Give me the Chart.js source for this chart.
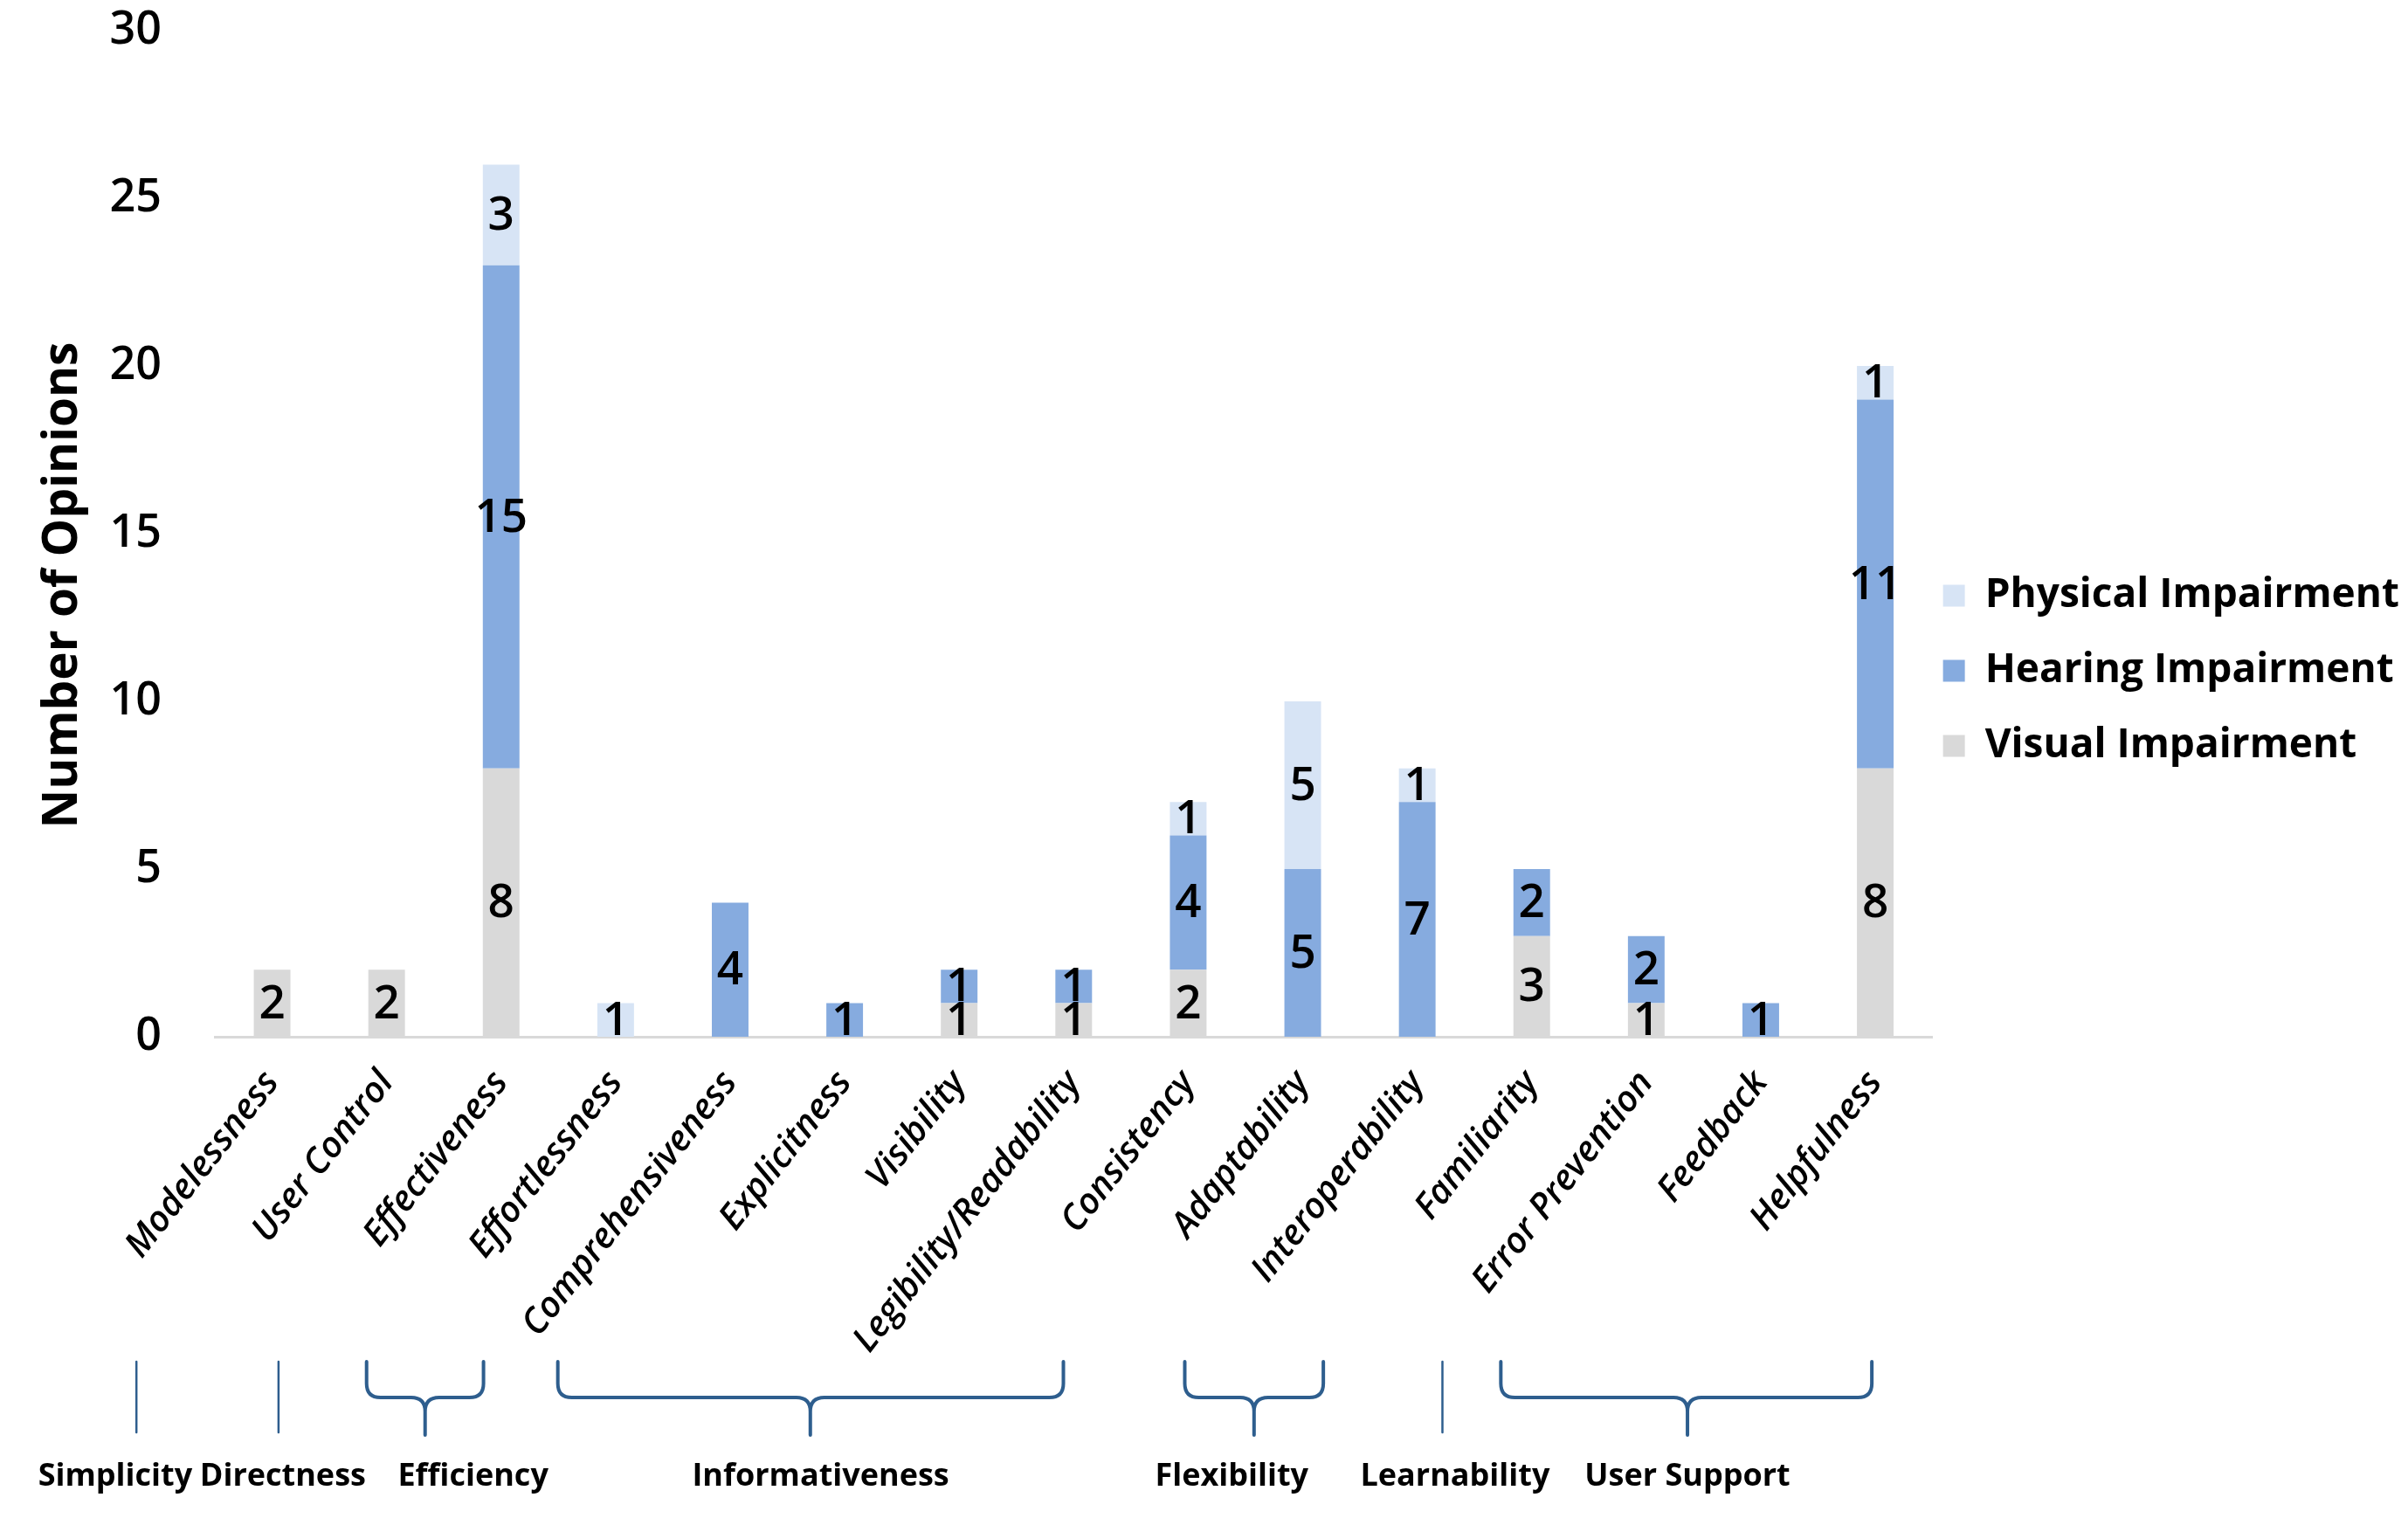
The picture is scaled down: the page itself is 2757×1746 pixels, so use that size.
<!DOCTYPE html>
<html>
<head>
<meta charset="utf-8">
<script src="https://cdn.jsdelivr.net/npm/chart.js@4.4.0/dist/chart.umd.min.js"></script>
<style>
  html, body { margin: 0; padding: 0; background: #fff; }
  #wrap { width: 2757px; height: 1746px; position: relative; }
</style>
</head>
<body>
<div id="wrap"><canvas id="opinions"></canvas></div>
<script>
// chart values
const categories = ['Modelessness', 'User Control', 'Effectiveness', 'Effortlessness', 'Comprehensiveness',
  'Explicitness', 'Visibility', 'Legibility/Readability', 'Consistency', 'Adaptability',
  'Interoperability', 'Familiarity', 'Error Prevention', 'Feedback', 'Helpfulness'];
const visual   = [2, 2, 8, 0, 0, 0, 1, 1, 2, 0, 0, 3, 1, 0, 8];
const hearing  = [0, 0, 15, 0, 4, 1, 1, 1, 4, 5, 7, 2, 2, 1, 11];
const physical = [0, 0, 3, 1, 0, 0, 0, 0, 1, 5, 1, 0, 0, 0, 1];
const seriesNames = ['Visual Impairment', 'Hearing Impairment', 'Physical Impairment'];
const yTicks = [0, 5, 10, 15, 20, 25, 30];
const groupNames = ['Simplicity', 'Directness', 'Efficiency', 'Informativeness', 'Flexibility', 'Learnability', 'User Support'];

// where the group brackets sit under the axis (in category index units)
const groupMarks = [
  { line: -1.185, label: -1.37 },
  { line: 0.056, label: 0.094 },
  { from: 0.825, to: 1.846, tip: 1.336, label: 1.755 },
  { from: 2.495, to: 6.91, tip: 4.70, label: 4.79 },
  { from: 7.97, to: 9.18, tip: 8.575, label: 8.38 },
  { line: 10.22, label: 10.33 },
  { from: 10.73, to: 13.97, tip: 12.36, label: 12.36 }
];

const FONT = '"Open Sans", "Noto Sans", sans-serif';
const BRACE = '#2E5E8E';

const annotate = {
  id: 'annotate',
  afterDatasetsDraw(chart) {
    const ctx = chart.ctx;
    ctx.save();
    ctx.font = '600 53px ' + FONT;
    ctx.fillStyle = '#000';
    ctx.textAlign = 'center';
    ctx.textBaseline = 'middle';
    chart.data.datasets.forEach((ds, i) => {
      chart.getDatasetMeta(i).data.forEach((bar, j) => {
        const v = ds.data[j];
        if (!v) return;
        const p = bar.getProps(['x', 'y', 'base'], true);
        ctx.fillText(String(v), p.x, (p.y + p.base) / 2 + 2);
      });
    });
    ctx.restore();
  },
  afterDraw(chart) {
    const ctx = chart.ctx;
    const xs = chart.scales.x;
    const px = v => xs.getPixelForValue(v);
    const top = 1559, bar = 1600, tipY = 1643, r = 16;
    ctx.save();
    ctx.strokeStyle = BRACE;
    ctx.lineCap = 'round';
    groupMarks.forEach(g => {
      ctx.beginPath();
      if (g.line !== undefined) {
        ctx.lineWidth = 2.5;
        ctx.moveTo(px(g.line), top);
        ctx.lineTo(px(g.line), tipY - 3);
      } else {
        const x1 = px(g.from), x2 = px(g.to), xt = px(g.tip);
        ctx.lineWidth = 4;
        ctx.moveTo(x1, top);
        ctx.lineTo(x1, bar - r);
        ctx.quadraticCurveTo(x1, bar, x1 + r, bar);
        ctx.lineTo(xt - r, bar);
        ctx.quadraticCurveTo(xt, bar, xt, bar + r);
        ctx.lineTo(xt, tipY);
        ctx.moveTo(xt, bar + r);
        ctx.quadraticCurveTo(xt, bar, xt + r, bar);
        ctx.lineTo(x2 - r, bar);
        ctx.quadraticCurveTo(x2, bar, x2, bar - r);
        ctx.lineTo(x2, top);
      }
      ctx.stroke();
    });
    ctx.fillStyle = '#000';
    ctx.font = 'bold 36px ' + FONT;
    ctx.textAlign = 'center';
    ctx.textBaseline = 'middle';
    groupMarks.forEach((g, i) => ctx.fillText(groupNames[i], px(g.label), 1691));

    // y axis title
    ctx.font = 'bold 55px ' + FONT;
    ctx.translate(72, 670);
    ctx.rotate(-Math.PI / 2);
    ctx.fillText('Number of Opinions', 0, 0);
    ctx.restore();
  }
};

const colors = ['#D9D9D9', '#86ABDF', '#D7E4F5'];
const values = [visual, hearing, physical];

new Chart(document.getElementById('opinions'), {
  type: 'bar',
  data: {
    labels: categories,
    datasets: values.map((d, i) => ({
      label: seriesNames[i],
      data: d,
      backgroundColor: colors[i],
      borderWidth: 0,
      barPercentage: 0.32,
      categoryPercentage: 1
    }))
  },
  options: {
    responsive: true,
    maintainAspectRatio: false,
    animation: false,
    layout: { padding: { top: 4, bottom: 186, left: 0, right: 0 } },
    scales: {
      x: {
        stacked: true,
        grid: { display: false, drawTicks: false },
        border: { display: true, color: '#D9D9D9', width: 3 },
        ticks: {
          autoSkip: false, minRotation: 52, maxRotation: 52, padding: 30, color: '#000',
          font: { family: FONT, size: 41, style: 'italic', weight: '600' }
        },
        afterFit: s => { s.height = 373; }
      },
      y: {
        stacked: true,
        min: 0,
        max: 30,
        grid: { display: false, drawTicks: false },
        border: { display: false },
        afterBuildTicks: s => { s.ticks = yTicks.map(v => ({ value: v })); },
        ticks: { padding: 61, color: '#000', font: { family: FONT, size: 52, weight: '600' } },
        afterFit: s => { s.width = 246; s.paddingTop = 35; s.paddingBottom = 0; }
      }
    },
    plugins: {
      tooltip: { enabled: false },
      legend: {
        position: 'right',
        reverse: true,
        align: 'center',
        labels: {
          boxWidth: 25, boxHeight: 25, padding: 12, color: '#000',
          font: { family: FONT, size: 46, weight: 'bold', lineHeight: 1.61 },
          // one-line arrays so the row pitch follows the font line height
          generateLabels: chart => Chart.defaults.plugins.legend.labels.generateLabels(chart)
            .map(item => Object.assign(item, { text: [item.text] }))
        }
      }
    }
  },
  plugins: [annotate]
});
</script>
</body>
</html>
